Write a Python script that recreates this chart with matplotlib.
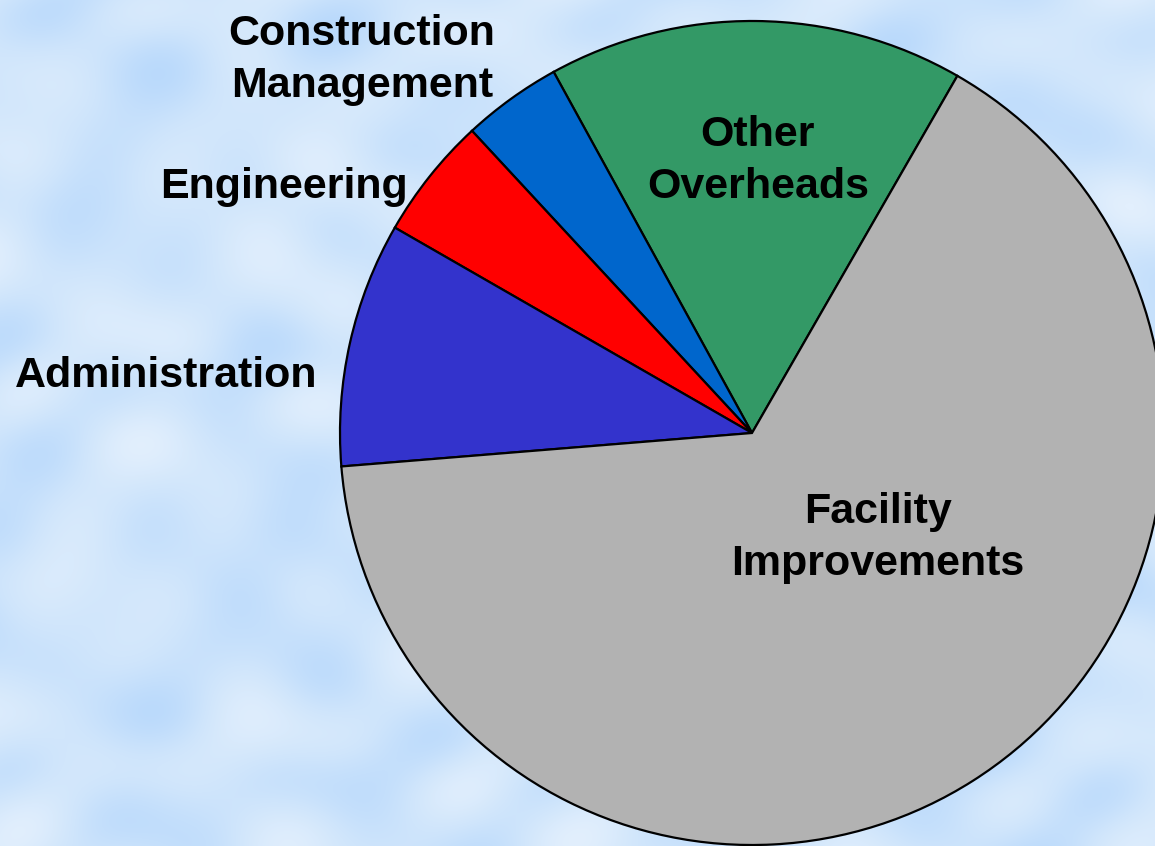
import numpy as np
import matplotlib.pyplot as plt
from matplotlib.colors import LinearSegmentedColormap

# Slice data (percent of total)
labels = ['Other\nOverheads', 'Construction\nManagement', 'Engineering',
          'Administration', 'Facility\nImprovements']
shares = [16.3, 3.9, 4.8, 9.6, 65.4]
colors = ['#339966', '#0066cc', '#ff0000', '#3333cc', '#b2b2b2']

# Label placement in pixels of the 1155x846 picture
label_px = [(758, 161), (362, 60), (284, 187), (166, 376), (878, 538)]

W, H = 1155, 846
cx, cy, r = 752, 433, 412

fig = plt.figure(figsize=(W / 100, H / 100), dpi=100)
ax = fig.add_axes([0, 0, 1, 1])

# cloudy light-blue backdrop
yy, xx = np.mgrid[0:H, 0:W]
tex = (np.sin(xx / 47.0 + np.sin(yy / 61.0) * 1.7) * np.cos(yy / 39.0 + np.sin(xx / 83.0))
       + 0.6 * np.sin(xx / 29.0 - yy / 71.0) * np.sin(yy / 23.0 + xx / 97.0))
tex = (tex - tex.min()) / (tex.max() - tex.min())
sky = LinearSegmentedColormap.from_list('sky', ['#e2effd', '#cfe5fb', '#b9d9fb'])
ax.imshow(tex, cmap=sky, extent=[(0 - cx) / r, (W - cx) / r, (cy - H) / r, cy / r],
          origin='upper', zorder=0, interpolation='bilinear')

ax.pie(shares, colors=colors, startangle=60.1, counterclock=True, radius=1.0,
       wedgeprops=dict(edgecolor='black', linewidth=1.6))

for lab, (px, py) in zip(labels, label_px):
    ax.text((px - cx) / r, (cy - py) / r, lab, ha='center', va='center',
            fontsize=31, fontweight='bold', family='Liberation Sans',
            linespacing=1.38, color='black', zorder=5)

ax.set_xlim((0 - cx) / r, (W - cx) / r)
ax.set_ylim((cy - H) / r, cy / r)
ax.set_aspect('equal')
ax.axis('off')

fig.savefig('out.png', dpi=100)
